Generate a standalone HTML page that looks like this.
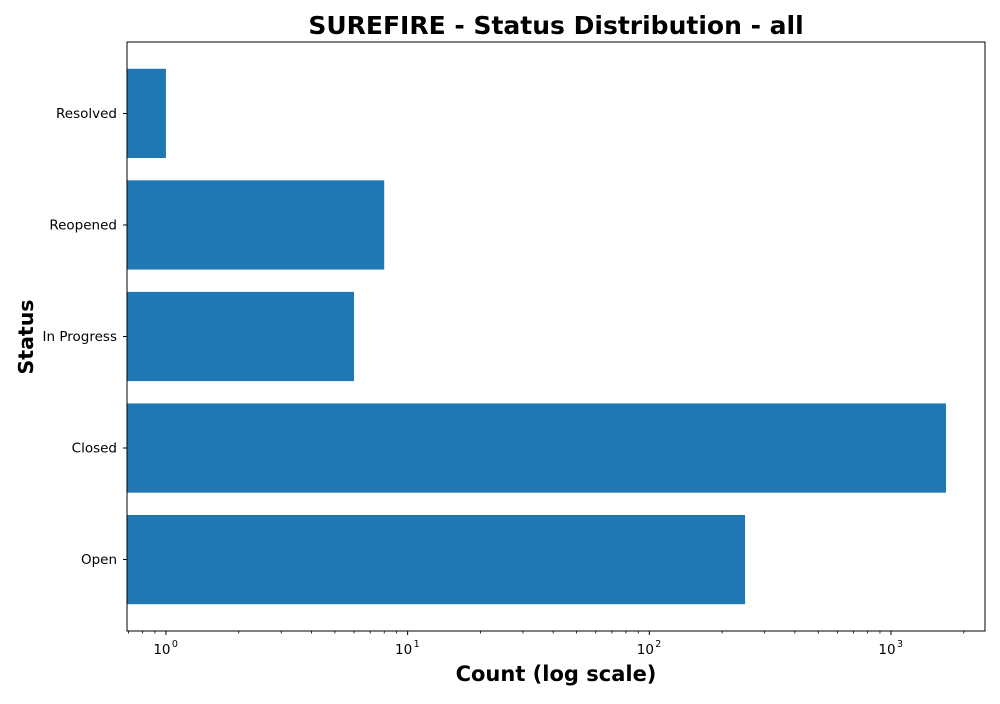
<!DOCTYPE html>
<html><head><meta charset="utf-8"><style>
body{margin:0;background:#fff;font-family:"DejaVu Sans","Liberation Sans",sans-serif}
</style></head><body>
<svg id="c" width="1000" height="700" xmlns="http://www.w3.org/2000/svg"></svg>
<script>
const categories=["Open","Closed","In Progress","Reopened","Resolved"];
const counts=[249,1688,6,8,1];
const majorTicks=[0,1,2,3];
const tickLabels=["0","1","2","3"];
const L=127,R=985,T=42,B=631;
const xmin=Math.log10(0.69),xmax=Math.log10(2448);
const ymin=-0.64,ymax=4.64;
const xs=v=>L+(Math.log10(v)-xmin)/(xmax-xmin)*(R-L);
const ys=i=>B-(i-ymin)/(ymax-ymin)*(B-T);
const svg=document.getElementById('c');
const NS='http://www.w3.org/2000/svg';
function mk(t,a,txt){const e=document.createElementNS(NS,t);for(const k in a)e.setAttribute(k,a[k]);if(txt!==undefined)e.textContent=txt;svg.appendChild(e);return e;}
const bw=(B-T)/(ymax-ymin)*0.8;
counts.forEach((v,i)=>{
 const r=mk('rect',{x:L,y:ys(i)-bw/2,width:xs(v)-L,height:bw,fill:'#1f77b4'});
 
 
 const tk=mk('line',{x1:L-4,x2:L,y1:ys(i),y2:ys(i),stroke:'#000','stroke-width':1,'shape-rendering':'crispEdges'});
 
 
 const lb=mk('text',{x:L-10,y:ys(i)+4.5,'text-anchor':'end','font-size':13.5},categories[i]);
 
 
});
for(let d=-1;d<=3;d++){for(let m=2;m<=9;m++){const v=m*Math.pow(10,d);if(Math.log10(v)<xmin||Math.log10(v)>xmax)continue;
 const t=mk('line',{x1:xs(v),x2:xs(v),y1:B,y2:B+2.5,stroke:'#000','stroke-width':0.8});
 
 }}
majorTicks.forEach((p,i)=>{const x=xs(Math.pow(10,p));
 const t=mk('line',{x1:x,x2:x,y1:B,y2:B+4,stroke:'#000','stroke-width':1});
 
 
 const tx=mk('text',{x:x-4,y:B+23,'text-anchor':'middle','font-size':13.5},'10');
 
 
 const s=mk('text',{x:x+9,y:B+16,'text-anchor':'middle','font-size':9.5},tickLabels[i]);
 
 
});
const f=mk('rect',{x:L,y:T,width:R-L,height:B-T,fill:'none',stroke:'#000','stroke-width':1,'shape-rendering':'crispEdges'});


const ti=mk('text',{x:556,y:34,'text-anchor':'middle','font-size':25,'font-weight':'bold'},'SUREFIRE - Status Distribution - all');


const xt=mk('text',{x:556,y:681,'text-anchor':'middle','font-size':21,'font-weight':'bold'},'Count (log scale)');


const yt=mk('text',{x:33,y:337,'text-anchor':'middle','font-size':20.5,'font-weight':'bold',transform:'rotate(-90 33 337)'},'Status');


</script>
</body></html>
